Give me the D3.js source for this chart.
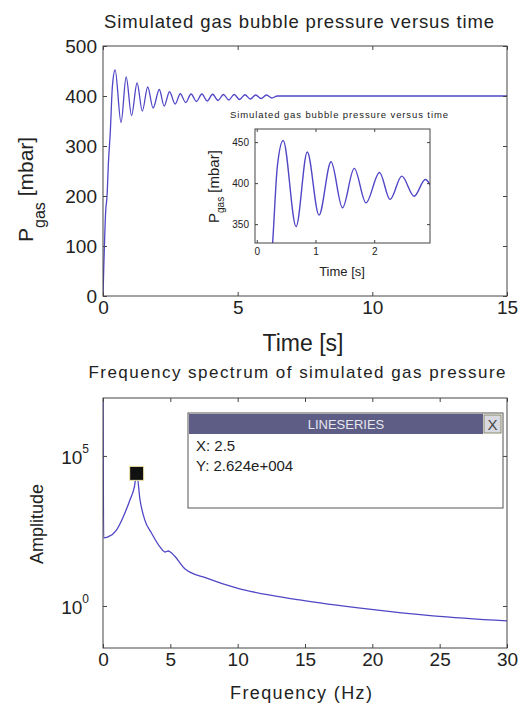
<!DOCTYPE html>
<html>
<head>
<meta charset="utf-8">
<script src="https://cdn.jsdelivr.net/npm/d3@7"></script>
<style>
  body { margin: 0; background: #fff; }
  text { font-family: "Liberation Sans", Arial, sans-serif; fill: #222; }
</style>
</head>
<body>
<div id="chart"></div>
<script>
// pressure trace (peaks and troughs)
let timeS = [0, 0.02, 0.1, 0.15, 0.2, 0.27, 0.35, 0.45, 0.67, 0.86, 1.06, 1.265, 1.46, 1.66, 1.86, 2.09, 2.27,
  2.47, 2.68, 2.87, 3.07, 3.27, 3.47, 3.67, 3.87, 4.07, 4.27, 4.47, 4.67, 4.87, 5.07, 5.27, 5.47, 5.67,
  5.87, 6.07, 6.27, 6.47, 15];
let pressureMbar = [0, 40, 170, 200, 265, 327, 420, 452, 347, 438, 361, 426, 370, 418, 376, 413, 380,
  408.5, 384, 404.5, 387, 404, 389, 404, 390, 403.5, 391, 403, 392, 403, 393, 402.5, 394, 402,
  395, 402, 396, 400, 400];

// spectrum
let freqHz = [0, 0.05, 0.37, 1.0, 1.5, 2.0, 2.33, 2.5, 2.75, 3.1, 3.6, 4.23, 4.6, 4.85, 5.0, 5.3, 6.1,
  7.7, 9.9, 14.6, 19.6, 24.5, 30];
let amplitude = [1e8, 185, 200, 340, 930, 3400, 9300, 26240, 3400, 740, 270, 93, 63, 68, 63, 47, 17,
  8.5, 4, 1.6, 0.8, 0.47, 0.32];

let mainTicksX = [0, 5, 10, 15];
let mainTicksY = [0, 100, 200, 300, 400, 500];
let insetTicksX = [0, 1, 2];
let insetTicksY = [350, 400, 450];
let specTicksX = [0, 5, 10, 15, 20, 25, 30];
let specTicksY = [1, 1e5];
let cursorPoint = { x: 2.5, y: 26240 };

let lineColor = "#5046c6";
let width = 529, height = 705;

let svg = d3.select("#chart").append("svg")
  .attr("width", width)
  .attr("height", height);

let pressure = timeS.map((t, i) => ({ x: t, y: pressureMbar[i] }));
let spectrum = freqHz.map((f, i) => ({ x: f, y: amplitude[i] }));

// draws frame + inward ticks on all four sides
function frame(g, x, y, tx, ty, fmtX, fmtY, fontSize, tick) {
  let x0 = x.range()[0], x1 = x.range()[1], y0 = y.range()[0], y1 = y.range()[1];
  g.append("g").attr("transform", `translate(0,${y0})`)
    .call(d3.axisBottom(x).tickValues(tx).tickSize(-tick).tickPadding(5).tickFormat(fmtX));
  g.append("g").attr("transform", `translate(0,${y1})`)
    .call(d3.axisTop(x).tickValues(tx).tickSize(-tick).tickFormat(""));
  g.append("g").attr("transform", `translate(${x0},0)`)
    .call(d3.axisLeft(y).tickValues(ty).tickSize(-tick).tickPadding(6).tickFormat(fmtY));
  g.append("g").attr("transform", `translate(${x1},0)`)
    .call(d3.axisRight(y).tickValues(ty).tickSize(-tick).tickFormat(""));
  g.selectAll(".domain").remove();
  g.selectAll(".tick line").attr("stroke", "#444");
  g.selectAll(".tick text").attr("font-size", fontSize).attr("font-family", "Liberation Sans, Arial").attr("fill", "#222");
  g.append("rect")
    .attr("x", x0).attr("y", y1).attr("width", x1 - x0).attr("height", y0 - y1)
    .attr("fill", "none").attr("stroke", "#444").attr("stroke-width", 1);
}

// ---------- top panel ----------
let xTop = d3.scaleLinear().domain([0, 15]).range([103, 507]);
let yTop = d3.scaleLinear().domain([0, 500]).range([296, 46]);

let topPanel = svg.append("g");
topPanel.append("defs").append("clipPath").attr("id", "clipTop")
  .append("rect").attr("x", 103).attr("y", 46).attr("width", 404).attr("height", 250);

topPanel.append("path")
  .datum(pressure)
  .attr("clip-path", "url(#clipTop)")
  .attr("fill", "none")
  .attr("stroke", lineColor)
  .attr("stroke-width", 1.3)
  .attr("d", d3.line().x(d => xTop(d.x)).y(d => yTop(d.y)).curve(d3.curveMonotoneX));

frame(topPanel, xTop, yTop, mainTicksX, mainTicksY, d3.format("d"), d3.format("d"), 19, 4);

topPanel.append("text")
  .attr("x", 299).attr("y", 28)
  .attr("text-anchor", "middle")
  .attr("font-size", 18.5)
  .attr("textLength", 390)
  .text("Simulated gas bubble pressure versus time");

topPanel.append("text")
  .attr("x", 303).attr("y", 351)
  .attr("text-anchor", "middle")
  .attr("font-size", 23)
  .text("Time [s]");

let yl = topPanel.append("text")
  .attr("transform", "translate(33,242) rotate(-90)")
  .attr("font-size", 21);
yl.append("tspan").text("P");
yl.append("tspan").attr("font-size", 16).attr("dy", 12).text("gas");
yl.append("tspan").attr("dy", -12).text(" [mbar]");

// ---------- inset ----------
let xIn = d3.scaleLinear().domain([-0.03, 2.95]).range([255, 430]);
let yIn = d3.scaleLinear().domain([327, 466]).range([243, 129]);

let inset = svg.append("g");
inset.append("rect").attr("x", 255).attr("y", 129).attr("width", 175).attr("height", 114).attr("fill", "#fff");
inset.append("defs").append("clipPath").attr("id", "clipInset")
  .append("rect").attr("x", 255).attr("y", 129).attr("width", 175).attr("height", 114);

inset.append("path")
  .datum(pressure)
  .attr("clip-path", "url(#clipInset)")
  .attr("fill", "none")
  .attr("stroke", lineColor)
  .attr("stroke-width", 1.4)
  .attr("d", d3.line().x(d => xIn(d.x)).y(d => yIn(d.y)).curve(d3.curveMonotoneX));

frame(inset, xIn, yIn, insetTicksX, insetTicksY, d3.format("d"), d3.format("d"), 10, 3);
inset.selectAll(".tick text").attr("fill", "#444");

inset.append("text")
  .attr("x", 339).attr("y", 118)
  .attr("text-anchor", "middle")
  .attr("font-size", 9.5)
  .attr("fill", "#444")
  .attr("textLength", 218)
  .text("Simulated gas bubble pressure versus time");

inset.append("text")
  .attr("x", 342).attr("y", 276)
  .attr("text-anchor", "middle")
  .attr("font-size", 13)
  .text("Time [s]");

let yli = inset.append("text")
  .attr("transform", "translate(219,223) rotate(-90)")
  .attr("font-size", 15);
yli.append("tspan").text("P");
yli.append("tspan").attr("font-size", 10).attr("dy", 5).text("gas");
yli.append("tspan").attr("dy", -5).text(" [mbar]");

// ---------- bottom panel ----------
let xBot = d3.scaleLinear().domain([0, 30]).range([103, 507]);
let yBot = d3.scaleLog().domain([Math.pow(10, -1.4), Math.pow(10, 6.93)]).range([648, 398]);

let bot = svg.append("g");
bot.append("defs").append("clipPath").attr("id", "clipBot")
  .append("rect").attr("x", 103).attr("y", 398).attr("width", 404).attr("height", 250);

bot.append("path")
  .datum(spectrum)
  .attr("clip-path", "url(#clipBot)")
  .attr("fill", "none")
  .attr("stroke", lineColor)
  .attr("stroke-width", 1.3)
  .attr("d", d3.line().x(d => xBot(d.x)).y(d => yBot(d.y)).curve(d3.curveMonotoneX));

frame(bot, xBot, yBot, specTicksX, specTicksY, d3.format("d"), () => "", 19, 4);

// log tick labels as 10^n
bot.selectAll("text.pow")
  .data(specTicksY)
  .join("text")
  .attr("class", "pow")
  .attr("x", 89).attr("y", d => yBot(d) + 8)
  .attr("text-anchor", "end")
  .attr("font-size", 19)
  .call(t => {
    t.append("tspan").text("10");
    t.append("tspan").attr("font-size", 12).attr("dy", -11).text(d => Math.round(Math.log10(d)));
  });

bot.append("text")
  .attr("x", 297).attr("y", 378)
  .attr("text-anchor", "middle")
  .attr("font-size", 17)
  .attr("textLength", 417)
  .text("Frequency spectrum of simulated gas pressure");

bot.append("text")
  .attr("x", 301).attr("y", 699)
  .attr("text-anchor", "middle")
  .attr("font-size", 18)
  .attr("textLength", 142)
  .text("Frequency (Hz)");

bot.append("text")
  .attr("transform", "translate(43,524) rotate(-90)")
  .attr("text-anchor", "middle")
  .attr("font-size", 18)
  .text("Amplitude");

// data cursor marker
bot.append("rect")
  .attr("x", xBot(cursorPoint.x) - 7).attr("y", yBot(cursorPoint.y) - 7)
  .attr("width", 14).attr("height", 14)
  .attr("fill", "#111").attr("stroke", "#efe6a8").attr("stroke-width", 1);

// data tip box
let tip = bot.append("g");
tip.append("rect").attr("x", 188).attr("y", 413).attr("width", 315).attr("height", 95)
  .attr("fill", "#fff").attr("stroke", "#555");
tip.append("rect").attr("x", 189).attr("y", 414).attr("width", 294).attr("height", 20)
  .attr("fill", "#5d5d86");
tip.append("text").attr("x", 346).attr("y", 429).attr("text-anchor", "middle")
  .attr("font-size", 13).style("fill", "#e6e6ee").text("LINESERIES");
tip.append("rect").attr("x", 484).attr("y", 415).attr("width", 17).attr("height", 18)
  .attr("fill", "#d9d9e2").attr("stroke", "#8a8a6a");
tip.append("text").attr("x", 492.5).attr("y", 430).attr("text-anchor", "middle")
  .attr("font-size", 15).style("fill", "#444").text("X");
tip.append("text").attr("x", 196).attr("y", 451).attr("font-size", 15).text("X: " + cursorPoint.x);
tip.append("text").attr("x", 196).attr("y", 471).attr("font-size", 15).text("Y: 2.624e+004");
</script>
</body>
</html>
